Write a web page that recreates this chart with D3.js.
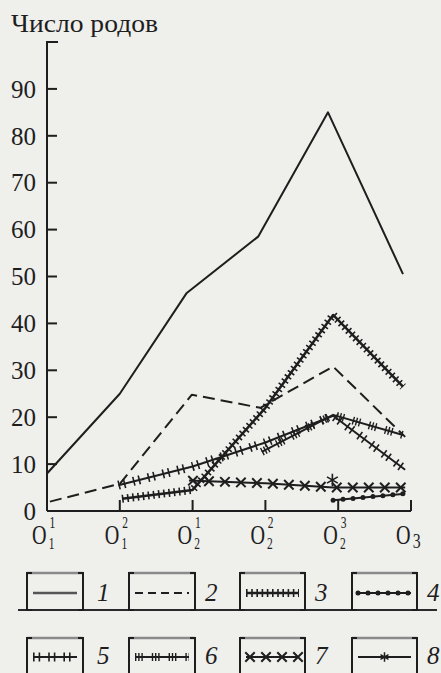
<!DOCTYPE html>
<html><head><meta charset="utf-8">
<script src="https://cdn.jsdelivr.net/npm/d3@7"></script>
<style>
html,body{margin:0;padding:0;background:#efefec;}
svg{display:block;}
text{fill:#1e1e1e;}
</style></head>
<body>
<svg id="c" width="441" height="673" font-family="'Liberation Serif', 'Times New Roman', 'DejaVu Serif', 'Noto Serif', serif"></svg>
<script>
// ---- data ----
const yTicks = [0,10,20,30,40,50,60,70,80,90];
const tickBase = ["O","O","O","O","O","O"];
const tickSup  = ["1","2","1","2","3",""];
const tickSub  = ["1","1","2","2","2","3"];
// x positions are category indices (0 = O1¹ ... 5 = O3)
const s1X = [0, 1.0, 1.92, 2.9, 3.86, 4.89];
const s1Y = [8, 25, 46.5, 58.5, 85, 50.5];
const s2X = [0.04, 1.0, 1.99, 2.93, 3.93, 4.92];
const s2Y = [2, 5.8, 24.8, 22, 30.8, 15.8];
const s3X = [1.03, 2.0, 3.0, 3.93, 4.89];
const s3Y = [2.6, 4.5, 22, 41.8, 26.5];
const s4X = [3.93, 4.92];
const s4Y = [2.3, 3.7];
const s5X = [0.98, 2.0, 3.0, 3.93, 4.92];
const s5Y = [5.5, 9.5, 14.6, 20.3, 8.8];
const s6X = [2.95, 3.93, 4.89];
const s6Y = [12.6, 20.5, 16.2];
const s7X = [1.95, 3.0, 3.93, 4.92];
const s7Y = [6.5, 5.9, 5.0, 5.0];
const s8X = [3.92];
const s8Y = [6.6];
const legendLabels = ["1","2","3","4","5","6","7","8"];

const svg = d3.select("#c");
const ink = "#1e1e1e";
const x = d3.scaleLinear().domain([0,5]).range([47,411]);
const y = d3.scaleLinear().domain([0,100]).range([511,42]);

// title
svg.append("text").attr("x",11).attr("y",32).attr("font-size",26).attr("textLength",147).attr("lengthAdjust","spacingAndGlyphs").text("Число родов");

// y axis
const gy = svg.append("g");
gy.append("path").attr("d",`M${x(0)+11},${y(100)}H${x(0)}V${y(0)}`).attr("fill","none").attr("stroke",ink).attr("stroke-width",2);
yTicks.forEach(t=>{
  gy.append("line").attr("x1",x(0)).attr("x2",x(0)+10).attr("y1",y(t)).attr("y2",y(t)).attr("stroke",ink).attr("stroke-width",2);
  gy.append("text").attr("x",36).attr("y",y(t)).attr("dy","0.35em").attr("text-anchor","end").attr("font-size",25).text(t);
});
// x axis
const gx = svg.append("g");
gx.append("line").attr("x1",x(0)).attr("x2",x(5)).attr("y1",y(0)).attr("y2",y(0)).attr("stroke",ink).attr("stroke-width",2);
tickBase.forEach((b,i)=>{
  if(i>0) gx.append("line").attr("x1",x(i)).attr("x2",x(i)).attr("y1",y(0)).attr("y2",y(0)-11).attr("stroke",ink).attr("stroke-width",2);
  const t = gx.append("text").attr("transform",`translate(${x(i)-15},544) scale(0.72,1)`);
  t.append("tspan").attr("font-size",28).text(b);
  if(tickSup[i]){
    t.append("tspan").attr("font-size",16).attr("dx",4).attr("dy",-16).text(tickSup[i]);
    t.append("tspan").attr("font-size",16).attr("dx",-9).attr("dy",21).text(tickSub[i]);
  } else {
    t.append("tspan").attr("font-size",22).attr("dx",3).attr("dy",4).text(tickSub[i]);
  }
});

const line = d3.line().x(d=>x(d[0])).y(d=>y(d[1]));
const zip = (a,b)=>a.map((v,i)=>[v,b[i]]);

function styled(g, pts, kind){
  const d = line(pts);
  const base = g.append("path").attr("d",d).attr("fill","none").attr("stroke",ink).attr("stroke-width",2).attr("stroke-linejoin","round");
  if(kind===2){ base.attr("stroke-dasharray","12,6"); }
  if(kind===3){ g.append("path").attr("d",d).attr("fill","none").attr("stroke",ink).attr("stroke-width",8).attr("stroke-dasharray","1.6,3.6"); base.attr("stroke-width",2.5); }
  if(kind===4){ g.append("path").attr("d",d).attr("fill","none").attr("stroke",ink).attr("stroke-width",5).attr("stroke-linecap","round").attr("stroke-dasharray","0,10"); }
  if(kind===5){ g.append("path").attr("d",d).attr("fill","none").attr("stroke",ink).attr("stroke-width",9).attr("stroke-dasharray","1.6,4,1.6,8"); }
  if(kind===6){ g.append("path").attr("d",d).attr("fill","none").attr("stroke",ink).attr("stroke-width",8).attr("stroke-dasharray","1.4,1.8,1.4,1.8,1.4,9"); }
  if(kind===7){
    const len = base.node().getTotalLength();
    for(let s=4; s<len; s+=16){
      const p = base.node().getPointAtLength(s);
      g.append("path").attr("d",d3.symbol(d3.symbolTimes,60)()).attr("transform",`translate(${p.x},${p.y})`).attr("fill","none").attr("stroke",ink).attr("stroke-width",2);
    }
  }
  return base;
}
const gl = svg.append("g");
styled(gl, zip(s2X,s2Y), 2);
styled(gl, zip(s1X,s1Y), 1);
styled(gl, zip(s7X,s7Y), 7);
styled(gl, zip(s4X,s4Y), 4);
styled(gl, zip(s5X,s5Y), 5);
styled(gl, zip(s6X,s6Y), 6);
styled(gl, zip(s3X,s3Y), 3);
zip(s8X,s8Y).forEach(p=>{
  gl.append("path").attr("d",d3.symbol(d3.symbolAsterisk,110)()).attr("transform",`translate(${x(p[0])},${y(p[1])})`).attr("fill","none").attr("stroke",ink).attr("stroke-width",1.6);
});

// legend
const lg = svg.append("g");
const boxX = [[27,83],[129,195],[240,305],[352,417]];
const rows = [{top:573,bot:610,mid:593,lab:601},{top:638,bot:676,mid:657,lab:664}];
lg.append("line").attr("x1",18).attr("x2",437).attr("y1",610).attr("y2",610).attr("stroke","#2a2a2a").attr("stroke-width",2);
legendLabels.forEach((lab,i)=>{
  const r = rows[Math.floor(i/4)], bx = boxX[i%4];
  lg.append("line").attr("x1",bx[0]).attr("x2",bx[1]).attr("y1",r.top).attr("y2",r.top).attr("stroke","#8a8a8a").attr("stroke-width",2.5);
  lg.append("path").attr("d",`M${bx[0]+5},${r.top}H${bx[0]}V${r.bot}H${bx[0]+5}M${bx[1]-5},${r.top}H${bx[1]}V${r.bot}H${bx[1]-5}`).attr("fill","none").attr("stroke",ink).attr("stroke-width",2);
  const sx0 = x.invert(bx[0]+6), sx1 = x.invert(bx[1]-6), sy = y.invert(r.mid);
  const kind = i+1;
  if(kind===8){
    lg.append("line").attr("x1",bx[0]+6).attr("x2",bx[1]-6).attr("y1",r.mid).attr("y2",r.mid).attr("stroke",ink).attr("stroke-width",2);
    lg.append("path").attr("d",d3.symbol(d3.symbolAsterisk,60)()).attr("transform",`translate(${(bx[0]+bx[1])/2},${r.mid})`).attr("fill","none").attr("stroke",ink).attr("stroke-width",1.5);
  } else {
    const p = styled(lg, [[sx0,sy],[sx1,sy]], kind);
    if(kind===2) p.attr("stroke-dasharray","8,5");
    if(kind===1) p.attr("stroke","#555").attr("stroke-width",2.5);
  }
  lg.append("text").attr("x",bx[1]+ (i%4===0?14:10)).attr("y",r.lab).attr("font-size",25).attr("font-style","italic").text(lab);
});
</script>
</body></html>
